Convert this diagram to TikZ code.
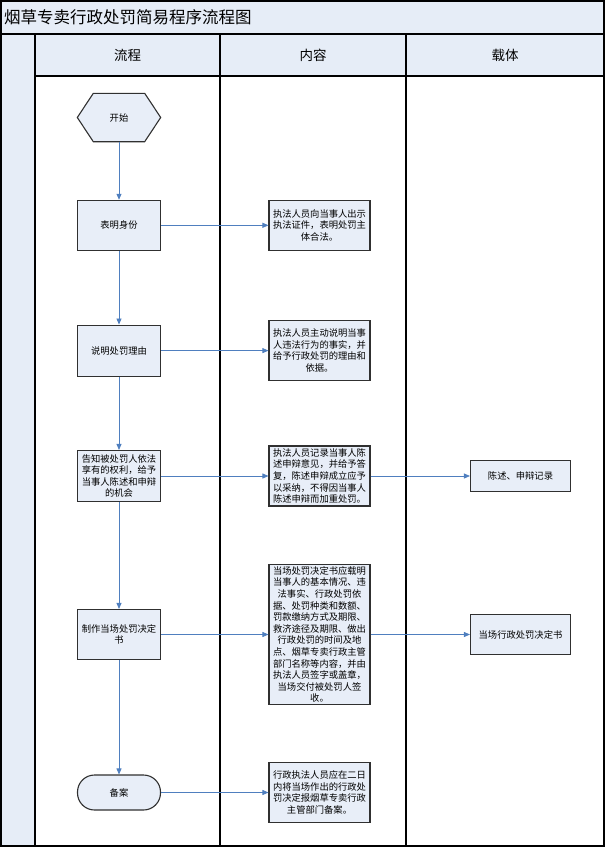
\documentclass[tikz,border=0pt]{standalone}
\usepackage{fontspec}
\newfontfamily\cjk{Noto Sans CJK SC}
\usetikzlibrary{arrows.meta,backgrounds}
\definecolor{boxfill}{HTML}{E8EEF8}
\definecolor{hdrfill}{HTML}{E6EDF7}
\definecolor{arrowblue}{HTML}{4F7FBF}
\definecolor{boxline}{HTML}{303030}
\tikzset{
  txt/.style={font=\cjk\fontsize{9.3}{11.6}\selectfont, align=center, inner sep=1pt},
  flowbox/.style={txt, draw=boxline, line width=1.1pt, fill=boxfill, minimum width=83pt},
  contentbox/.style={txt, draw=boxline, line width=1.1pt, fill=boxfill, minimum width=101pt},
  carrierbox/.style={txt, draw=boxline, line width=1.1pt, fill=boxfill, minimum width=100pt},
  flowarrow/.style={draw=arrowblue, line width=0.8pt, -{Triangle[width=5pt,length=6pt]}},
  hdr/.style={font=\cjk\fontsize{13.5}{15}\selectfont, inner sep=0pt},
}
\begin{document}
\begin{tikzpicture}[x=1pt,y=-1pt]
\useasboundingbox (0,0) rectangle (607,849);
% frame fills
\fill[hdrfill] (1,1) rectangle (604,34);
\fill[hdrfill] (35,34) rectangle (604,76);
\fill[hdrfill] (1,34) rectangle (35,846);
% lines
\draw[line width=1.2pt] (1,34) -- (604,34);
\draw[line width=1.2pt] (35,76) -- (604,76);
\draw[line width=1.2pt] (35,34) -- (35,846);
\draw[line width=1.2pt] (220,34) -- (220,846);
\draw[line width=1.2pt] (406,34) -- (406,846);
\draw[line width=1.5pt] (1,1) rectangle (604,846);
% title and headers
\node[font=\cjk\fontsize{16.5}{18}\selectfont, anchor=west, inner sep=0pt] (title) at (4,17.5) {烟草专卖行政处罚简易程序流程图};
\node[hdr] (h1) at (127.5,55) {流程};
\node[hdr] (h2) at (313,55) {内容};
\node[hdr] (h3) at (505,55) {载体};
% start hexagon
\node[txt, minimum width=83pt, minimum height=48pt] (start) at (119,117.5) {开始};
\begin{scope}[on background layer]
\draw[draw=boxline, line width=1.1pt, fill=boxfill]
  (start.west) -- ([xshift=16pt]start.north west) -- ([xshift=-16pt]start.north east)
  -- (start.east) -- ([xshift=-16pt]start.south east) -- ([xshift=16pt]start.south west) -- cycle;
\end{scope}
% flow boxes
\node[flowbox, minimum height=50pt] (b1) at (119,225.3) {表明身份};
\node[flowbox, minimum height=51pt] (b2) at (119,350.6) {说明处罚理由};
\node[flowbox, minimum height=51pt] (b3) at (119,476) {告知被处罚人依法\\享有的权利，给予\\当事人陈述和申辩\\的机会};
\node[flowbox, minimum height=50pt] (b4) at (119,634.5) {制作当场处罚决定\\书};
\node[flowbox, minimum height=35pt, rounded corners=17pt] (b5) at (119,792.5) {备案};
% content boxes
\node[contentbox, minimum height=50pt] (c1) at (319.5,225.3) {执法人员向当事人出示\\执法证件，表明处罚主\\体合法。};
\node[contentbox, minimum height=60pt] (c2) at (319.5,350.6) {执法人员主动说明当事\\人违法行为的事实，并\\给予行政处罚的理由和\\依据。};
\node[contentbox, minimum height=60pt] (c3) at (319.5,476) {执法人员记录当事人陈\\述申辩意见，并给予答\\复，陈述申辩成立应予\\以采纳，不得因当事人\\陈述申辩而加重处罚。};
\node[contentbox, minimum height=140pt] (c4) at (319.5,634.5) {当场处罚决定书应载明\\当事人的基本情况、违\\法事实、行政处罚依\\据、处罚种类和数额、\\罚款缴纳方式及期限、\\救济途径及期限、做出\\行政处罚的时间及地\\点、烟草专卖行政主管\\部门名称等内容，并由\\执法人员签字或盖章，\\当场交付被处罚人签\\收。};
\node[contentbox, minimum height=60pt] (c5) at (319.5,792.5) {行政执法人员应在二日\\内将当场作出的行政处\\罚决定报烟草专卖行政\\主管部门备案。};
% carrier boxes
\node[carrierbox, minimum height=31pt] (d3) at (520.5,476) {陈述、申辩记录};
\node[carrierbox, minimum height=40pt] (d4) at (520.5,634.5) {当场行政处罚决定书};
% vertical arrows
\draw[flowarrow] (start.south) -- (b1.north);
\draw[flowarrow] (b1.south) -- (b2.north);
\draw[flowarrow] (b2.south) -- (b3.north);
\draw[flowarrow] (b3.south) -- (b4.north);
\draw[flowarrow] (b4.south) -- (b5.north);
% horizontal arrows
\draw[flowarrow] (b1.east) -- (c1.west);
\draw[flowarrow] (b2.east) -- (c2.west);
\draw[flowarrow] (b3.east) -- (c3.west);
\draw[flowarrow] (b4.east) -- (c4.west);
\draw[flowarrow] (b5.east) -- (c5.west);
\draw[flowarrow] (c3.east) -- (d3.west);
\draw[flowarrow] (c4.east) -- (d4.west);
\end{tikzpicture}
\end{document}
